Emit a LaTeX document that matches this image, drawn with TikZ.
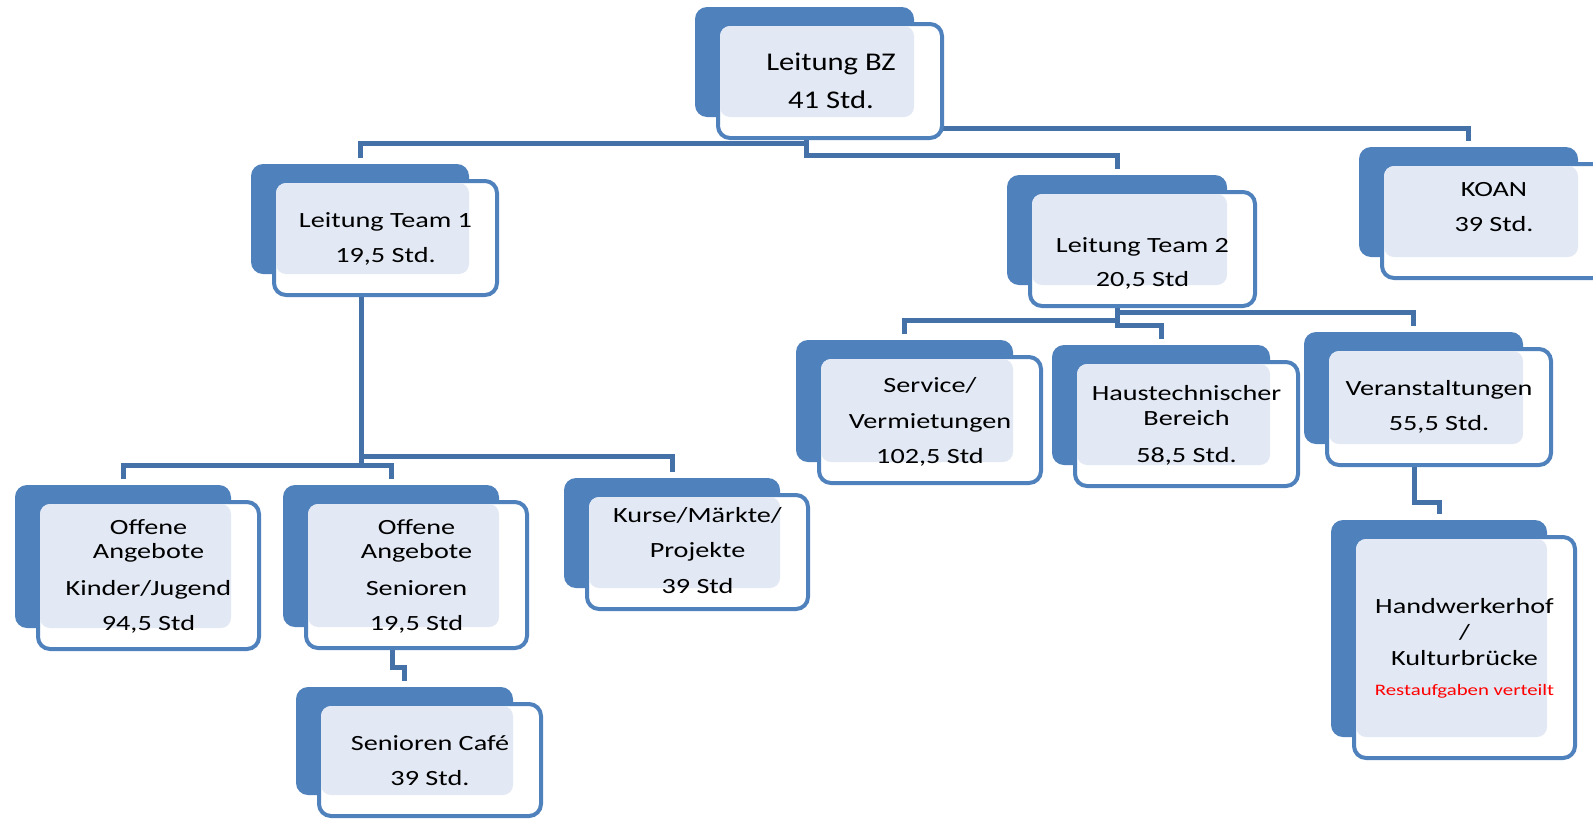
\documentclass[tikz,border=0pt]{standalone}
\usepackage{fontspec}
\setmainfont{Carlito}[FakeStretch=1.3]
\newfontfamily\bzfont{Carlito}[FakeStretch=1.2]
\definecolor{backblue}{RGB}{79,129,189}
\definecolor{lineblue}{RGB}{68,114,168}
\definecolor{patfill}{RGB}{226,233,244}
\definecolor{redtxt}{RGB}{255,0,0}
\tikzset{
  conn/.style={draw=lineblue, line width=5pt},
  backrect/.style={fill=backblue, draw=none, rounded corners=12pt, inner sep=0pt, outer sep=0pt},
  frontbox/.style={draw=backblue, line width=4pt, fill=white, rounded corners=12pt, inner sep=0pt, outer sep=0pt},
  dotarea/.style={fill=patfill, rounded corners=10pt},
  txt/.style={anchor=base, inner sep=0pt, text=black, font=\fontsize{21.7}{26}\selectfont},
  bztxt/.style={anchor=base, inner sep=0pt, text=black, font=\bzfont\fontsize{25.5}{30}\selectfont},
  redline/.style={anchor=base, inner sep=0pt, text=redtxt, font=\fontsize{16}{19}\selectfont}
}
% #1 name, #2 x1, #3 y1, #4 x2, #5 y2 (outer edges of the front box)
\newcommand{\orgshape}[5]{%
  \node[backrect, minimum width={(#4-30)-(#2-21)}, minimum height={(#5-23)-(#3-15)}] (#1b) at ({((#2-21)+(#4-30))/2},{((#3-15)+(#5-23))/2}) {};
  \node[frontbox, minimum width={#4-#2-4}, minimum height={#5-#3-4}] (#1) at ({(#2+#4)/2},{(#3+#5)/2}) {};
}
\newcommand{\orgdots}[5]{%
  \fill[dotarea] (#2+4,#3+4) rectangle (#4-30,#5-23);
}
\newcommand{\txtline}[4]{\node[txt] (#1) at (#2,#3) {#4};}
\begin{document}
\begin{tikzpicture}[x=1pt,y=-1pt]
\path[use as bounding box, fill=white] (0,0) rectangle (1593,820);
\clip (0,0) rectangle (1593,820);

% invisible placement of boxes first (to define names), drawn below
\begin{scope}[every node/.append style={opacity=0}]
\orgshape{bz}{716}{22}{944}{140}
\orgshape{t1}{272}{179}{499}{297}
\orgshape{t2}{1028}{190}{1257}{308}
\orgshape{koan}{1380}{162}{1608}{280}
\orgshape{serv}{817}{355}{1043}{485}
\orgshape{haus}{1073}{360}{1300}{488}
\orgshape{vera}{1325}{347}{1553}{467}
\orgshape{hand}{1352}{535}{1577}{760}
\orgshape{kind}{36}{500}{261}{651}
\orgshape{sen}{304}{500}{529}{650}
\orgshape{kurs}{585}{493}{810}{611}
\orgshape{cafe}{317}{702}{543}{818}
\end{scope}

% connectors
\draw[conn] ([xshift=-24pt]bz.south) -- ++(0,5) -| ([yshift=6pt]t1b.north);
\draw[conn] ([xshift=-24pt]bz.south) -- ++(0,17) -| ([yshift=6pt]t2b.north);
\draw[conn] ([yshift=-47pt]bz.east) -| ([yshift=6pt]koanb.north);
\draw[conn] ([xshift=-24.5pt]t1.south) -- ++(0,170) -| ([yshift=6pt]kindb.north);
\draw[conn] ([xshift=-24.5pt]t1.south) ++(0,170) -| ([yshift=6pt]senb.north);
\draw[conn] ([xshift=-24.5pt]t1.south) ++(0,161) -| ([yshift=6pt]kursb.north);
\draw[conn] ([xshift=-25.5pt]t2.south) -- ++(0,14) -| ([yshift=6pt]servb.north);
\draw[conn] ([xshift=-25.5pt]t2.south) -- ++(0,6) -| ([yshift=6pt]verab.north);
\draw[conn] ([xshift=-25.5pt]t2.south) -- ++(0,19) -| ([yshift=6pt]hausb.north);
\draw[conn] ([xshift=-25pt]vera.south) -- ++(0,37) -| ([yshift=6pt]handb.north);
\draw[conn] ([xshift=-24.5pt]sen.south) -- ++(0,19) -| ([yshift=6pt]cafeb.north);

% boxes
\orgshape{bz}{716}{22}{944}{140}\orgdots{bz}{716}{22}{944}{140}
\orgshape{t1}{272}{179}{499}{297}\orgdots{t1}{272}{179}{499}{297}
\orgshape{t2}{1028}{190}{1257}{308}\orgdots{t2}{1028}{190}{1257}{308}
\orgshape{koan}{1380}{162}{1608}{280}\orgdots{koan}{1380}{162}{1608}{280}
\orgshape{serv}{817}{355}{1043}{485}\orgdots{serv}{817}{355}{1043}{485}
\orgshape{haus}{1073}{360}{1300}{488}\orgdots{haus}{1073}{360}{1300}{488}
\orgshape{vera}{1325}{347}{1553}{467}\orgdots{vera}{1325}{347}{1553}{467}
\orgshape{hand}{1352}{535}{1577}{760}\orgdots{hand}{1352}{535}{1577}{760}
\orgshape{kind}{36}{500}{261}{651}\orgdots{kind}{36}{500}{261}{651}
\orgshape{sen}{304}{500}{529}{650}\orgdots{sen}{304}{500}{529}{650}
\orgshape{kurs}{585}{493}{810}{611}\orgdots{kurs}{585}{493}{810}{611}
\orgshape{cafe}{317}{702}{543}{818}\orgdots{cafe}{317}{702}{543}{818}

% texts
\node[bztxt] (bzA) at (831,70) {Leitung BZ};
\node[bztxt] (bzB) at (831,108) {41 Std.};
\txtline{t1A}{385.5}{227}{Leitung Team 1}
\txtline{t1B}{385.5}{262}{19,5 Std.}
\txtline{t2A}{1142.5}{252}{Leitung Team 2}
\txtline{t2B}{1142.5}{286}{20,5 Std}
\txtline{koanA}{1494}{196}{KOAN}
\txtline{koanB}{1494}{231}{39 Std.}
\txtline{servA}{930}{392}{Service/}
\txtline{servB}{930}{428}{Vermietungen}
\txtline{servC}{930}{463}{102,5 Std}
\txtline{hausA}{1186.5}{400}{Haustechnischer}
\txtline{hausB}{1186.5}{425}{Bereich}
\txtline{hausC}{1186.5}{462}{58,5 Std.}
\txtline{veraA}{1439}{395}{Veranstaltungen}
\txtline{veraB}{1439}{430}{55,5 Std.}
\txtline{handA}{1464.5}{613}{Handwerkerhof}
\txtline{handB}{1464.5}{639}{/}
\txtline{handC}{1464.5}{665}{Kulturbrücke}
\node[redline] (handD) at (1464.5,695) {Restaufgaben verteilt};
\txtline{kindA}{148.5}{534}{Offene}
\txtline{kindB}{148.5}{558}{Angebote}
\txtline{kindC}{148.5}{595}{Kinder/Jugend}
\txtline{kindD}{148.5}{630}{94,5 Std}
\txtline{senA}{416.5}{534}{Offene}
\txtline{senB}{416.5}{558}{Angebote}
\txtline{senC}{416.5}{595}{Senioren}
\txtline{senD}{416.5}{630}{19,5 Std}
\txtline{kursA}{697.5}{522}{Kurse/Märkte/}
\txtline{kursB}{697.5}{557}{Projekte}
\txtline{kursC}{697.5}{593}{39 Std}
\txtline{cafeA}{430}{750}{Senioren Café}
\txtline{cafeB}{430}{785}{39 Std.}
\end{tikzpicture}
\end{document}
